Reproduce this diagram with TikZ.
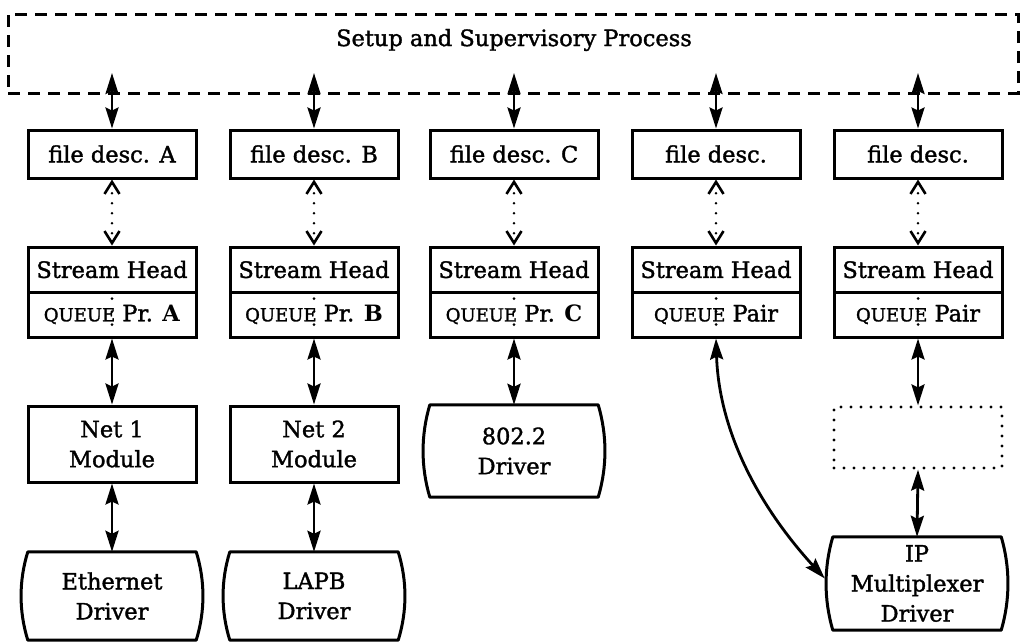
\documentclass[tikz,border=0pt]{standalone}
\usepackage{fontspec}
\setmainfont{DejaVu Serif}[UprightFeatures={FakeBold=1.5}]
\usetikzlibrary{arrows.meta,calc}
\newcommand\qu[1]{{\fontsize{18}{20}\selectfont #1}}
\newcommand\drvline[1]{\draw[line width=3pt,line cap=round,line join=round]
  (#1.north west) -- (#1.north east)
  .. controls ($(#1.north east)!0.33!(#1.south east)+(9,0)$) and ($(#1.north east)!0.67!(#1.south east)+(9,0)$) .. (#1.south east)
  -- (#1.south west)
  .. controls ($(#1.south west)!0.33!(#1.north west)+(-9,0)$) and ($(#1.south west)!0.67!(#1.north west)+(-9,0)$) .. (#1.north west);}
\begin{document}
\begin{tikzpicture}[x=1pt,y=-1pt,
  txt/.style={font=\fontsize{22.5}{30}\selectfont,align=center,inner sep=0pt},
  box/.style={txt,draw,line width=3pt,minimum width=168pt},
  drv/.style={txt,minimum width=168pt},
  dashbox/.style={draw,line width=3pt,dash pattern=on 12pt off 8pt,inner sep=0pt},
  dotbox/.style={draw,line width=3.2pt,line cap=round,dash pattern=on 0pt off 10pt,inner sep=0pt,minimum width=168pt},
  tipS/.tip={Stealth[length=21pt,width=13pt,inset=3pt]},
  dbl/.style={line width=2.8pt,tipS-tipS},
  tipB/.tip={Straight Barb[length=12pt,width=15pt,line width=2.6pt]},
  dotarr/.style={line width=2.8pt,line cap=round,dash pattern=on 0pt off 10pt,tipB-tipB},
  dotl/.style={line width=3pt,line cap=round,dash pattern=on 0pt off 13pt,dash phase=-8pt}
]
\useasboundingbox (0,0) rectangle (1024,641);

% supervisory process
\node[dashbox,minimum width=1010pt,minimum height=79pt] (sup) at (513,53.5) {};
\node[txt] (suptxt) at (514,40) {Setup and Supervisory Process};

% column A
\node[box,minimum height=48pt] (fA) at (112,154) {file desc. A};
\node[box,minimum height=45pt] (hA) at (112,269.5) {Stream Head};
\node[box,minimum height=45pt] (qA) at (112,314.5) {\qu{QUEUE} Pr. \textbf{A}};
\node[box,minimum height=76pt] (mA) at (112,444) {Net 1\\Module};
\node[drv,minimum height=88pt] (dA) at (112,596) {Ethernet\\Driver};
\drvline{dA}

% column B
\node[box,minimum height=48pt] (fB) at (314,154) {file desc. B};
\node[box,minimum height=45pt] (hB) at (314,269.5) {Stream Head};
\node[box,minimum height=45pt] (qB) at (314,314.5) {\qu{QUEUE} Pr. \textbf{B}};
\node[box,minimum height=76pt] (mB) at (314,444) {Net 2\\Module};
\node[drv,minimum height=88pt] (dB) at (314,596) {LAPB\\Driver};
\drvline{dB}

% column C
\node[box,minimum height=48pt] (fC) at (514,154) {file desc. C};
\node[box,minimum height=45pt] (hC) at (514,269.5) {Stream Head};
\node[box,minimum height=45pt] (qC) at (514,314.5) {\qu{QUEUE} Pr. \textbf{C}};
\node[drv,minimum height=92pt] (dC) at (514,451) {802.2\\Driver};
\drvline{dC}

% column D
\node[box,minimum height=48pt] (fD) at (716,154) {file desc.};
\node[box,minimum height=45pt] (hD) at (716,269.5) {Stream Head};
\node[box,minimum height=45pt] (qD) at (716,314.5) {\qu{QUEUE} Pair};

% column E
\node[box,minimum height=48pt] (fE) at (918,154) {file desc.};
\node[box,minimum height=45pt] (hE) at (918,269.5) {Stream Head};
\node[box,minimum height=45pt] (qE) at (918,314.5) {\qu{QUEUE} Pair};
\node[dotbox,minimum height=61pt] (pE) at (918,437.5) {};
\node[drv,minimum height=93pt] (dE) at (917,583.5) {IP\\Multiplexer\\Driver};
\drvline{dE}

% top arrows
\foreach \c/\x in {A/112,B/314,C/514,D/716,E/918}{
  \coordinate (t\c) at (\x,73);
  \draw[dbl] (t\c) -- (f\c.north);
  \draw[dotarr] (f\c.south) -- (h\c.north);
  \draw[dotl] (q\c.north) -- (q\c.south);
}

% lower arrows
\draw[dbl] (qA.south) -- (mA.north);
\draw[dbl] (mA.south) -- (dA.north);
\draw[dbl] (qB.south) -- (mB.north);
\draw[dbl] (mB.south) -- (dB.north);
\draw[dbl] (qC.south) -- (dC.north);
\draw[dbl] (qE.south) -- (pE.north);
\draw[dbl] (pE.south) -- (dE.north);
\draw[dbl] (qD.south) .. controls ($(qD.south)+(3,95)$) and ($(dE.west)+(-72,-75)$) .. ($(dE.west)+(-8,-5)$);
\end{tikzpicture}
\end{document}
